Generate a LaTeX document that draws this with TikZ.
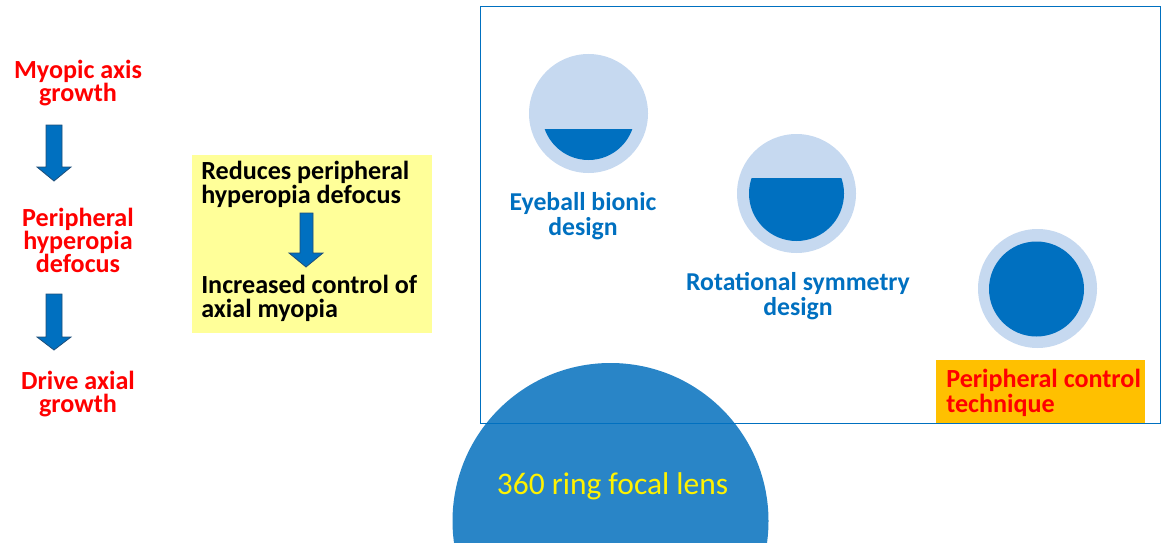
\documentclass[tikz,border=0pt]{standalone}
\usepackage{fontspec}
\setmainfont{Carlito}
\definecolor{redtxt}{HTML}{FF0000}
\definecolor{bluetxt}{HTML}{0070C0}
\definecolor{lightc}{HTML}{C6D9F0}
\definecolor{darkc}{HTML}{0070C0}
\definecolor{lensblue}{HTML}{2985C7}
\definecolor{ybox}{HTML}{FFFF99}
\definecolor{obox}{HTML}{FFC000}
\definecolor{arrowedge}{HTML}{1F4E79}
\definecolor{framecol}{HTML}{0070C0}
\begin{document}
\begin{tikzpicture}[x=0.75pt,y=-0.75pt,
  redlbl/.style={align=center,inner sep=0,text=redtxt,font=\bfseries\fontsize{19.6}{17.25}\selectfont},
  bluelbl/.style={align=center,inner sep=0,text=bluetxt,font=\bfseries\fontsize{19.3}{18.75}\selectfont},
  blacklbl/.style={align=left,inner sep=0,text=black,anchor=west,font=\bfseries\fontsize{19.6}{17.5}\selectfont},
  barrow/.style={fill=darkc,draw=arrowedge,line width=0.6pt,line join=miter},
  lens/.style={circle,fill=lightc,inner sep=0,minimum size=89.25pt}]
\useasboundingbox (0,0) rectangle (1166,542);
% big lens shape
\begin{scope}
\clip (0,0) rectangle (1166,542);
\fill[lensblue] (610.5,521) circle[radius=158];
\end{scope}
\node[inner sep=0,text=yellow,font=\fontsize{23.6}{28}\selectfont] (lenstxt) at (612.5,486.5) {360 ring focal lens};
% left chain
\node[redlbl] (myo) at (78,83.5) {Myopic axis\\growth};
\node[redlbl] (phd) at (78,240) {Peripheral\\hyperopia\\defocus};
\node[redlbl] (dag) at (78,394) {Drive axial\\growth};
\draw[barrow] (46,125) -- (62,125) -- (62,167) -- (71,167) -- (54,181) -- (37,167) -- (46,167) -- cycle;
\draw[barrow] (46,294) -- (62,294) -- (62,337) -- (71,337) -- (54,350) -- (37,337) -- (46,337) -- cycle;
% yellow box
\node[fill=ybox,inner sep=0,minimum width=180pt,minimum height=133.5pt,anchor=north west] (yb) at (192,155) {};
\node[blacklbl] (red) at (201,184.5) {Reduces peripheral\\hyperopia defocus};
\node[blacklbl] (inc) at (201,298.5) {Increased control of\\axial myopia};
\draw[barrow] (300,213) -- (313,213) -- (313,253) -- (323,253) -- (306,267) -- (289,253) -- (300,253) -- cycle;
% circles
\node[lens] (c1) at (588.5,113.5) {};
\begin{scope}
\clip (500,129) rectangle (680,200);
\fill[darkc] (588.5,113.5) circle[radius=46.5];
\end{scope}
\node[lens] (c2) at (796.5,193.5) {};
\begin{scope}
\clip (700,178) rectangle (900,260);
\fill[darkc] (796.5,193.5) circle[radius=47.5];
\end{scope}
\node[lens] (c3) at (1037.5,288.5) {};
\fill[darkc] (1036.5,289) circle[radius=47.5];
\node[bluelbl] (eb) at (583,216) {Eyeball bionic\\design};
\node[bluelbl] (rs) at (798,296.5) {Rotational symmetry\\design};
% orange box
\node[fill=obox,inner sep=0,minimum width=156.75pt,minimum height=47.25pt,anchor=north west] (ob) at (936,360) {};
\node[redlbl,align=left,anchor=west,font=\bfseries\fontsize{19.6}{18.75}\selectfont] (pct) at (946,393) {Peripheral control\\technique};
% frame
\draw[framecol,line width=0.75pt] (480,7) rectangle (1160,423);
\end{tikzpicture}
\end{document}
